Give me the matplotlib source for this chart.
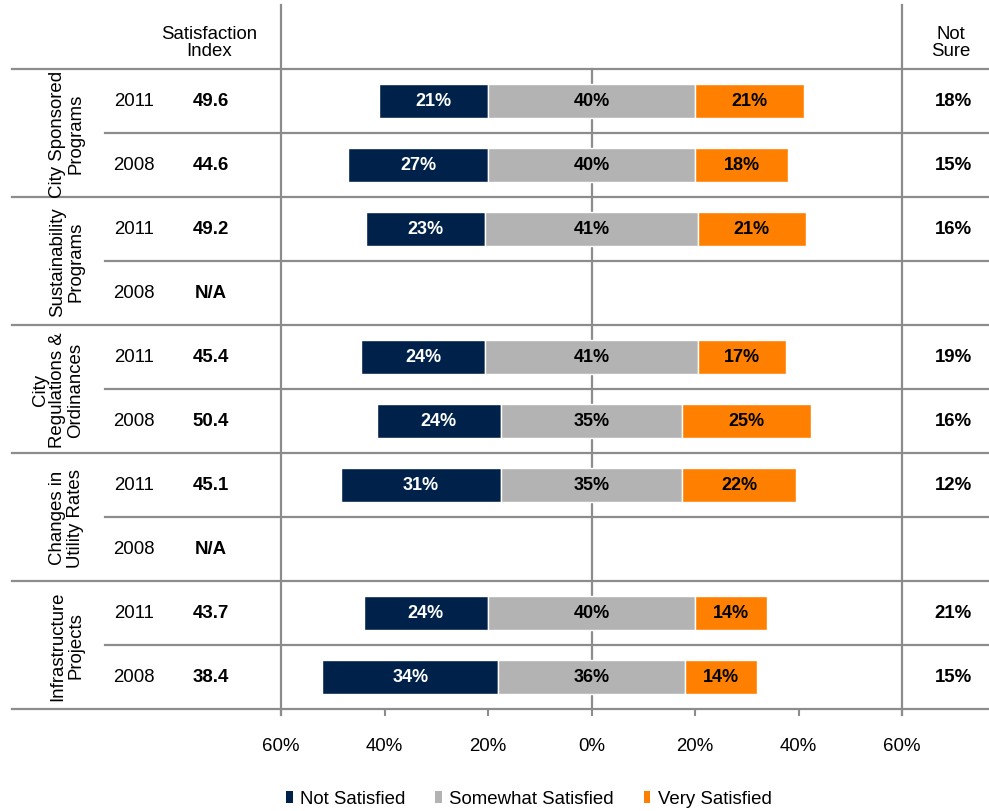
import matplotlib
matplotlib.use("Agg")
import matplotlib.pyplot as plt
from matplotlib.patches import Patch
from matplotlib.lines import Line2D
from matplotlib.transforms import blended_transform_factory

# ---- data ----
categories = ["City Sponsored\nPrograms", "Sustainability\nPrograms",
              "City\nRegulations &\nOrdinances", "Changes in\nUtility Rates",
              "Infrastructure\nProjects"]
years = ["2011", "2008", "2011", "2008", "2011", "2008", "2011", "2008", "2011", "2008"]
sat_index = ["49.6", "44.6", "49.2", "N/A", "45.4", "50.4", "45.1", "N/A", "43.7", "38.4"]
not_satisfied = [21, 27, 23, None, 24, 24, 31, None, 24, 34]
somewhat_satisfied = [40, 40, 41, None, 41, 35, 35, None, 40, 36]
very_satisfied = [21, 18, 21, None, 17, 25, 22, None, 14, 14]
not_sure = [18, 15, 16, None, 19, 16, 12, None, 21, 15]
tick_values = [-60, -40, -20, 0, 20, 40, 60]
tick_labels = ["60%", "40%", "20%", "0%", "20%", "40%", "60%"]
series_names = ["Not Satisfied", "Somewhat Satisfied", "Very Satisfied"]

NAVY = "#00214A"
GRAY = "#B3B3B3"
ORANGE = "#FF7F00"
LINE = "#8C8C8C"
FS = 13.4
FS_BAR = 13.0

plt.rcParams["font.family"] = ["Liberation Sans", "DejaVu Sans"]

W, H = 989, 812
fig = plt.figure(figsize=(W / 100, H / 100), dpi=100)
ax = fig.add_axes([281 / W, (H - 710) / H, 621 / W, 640 / H])
ax.set_xlim(-60, 60)
n_rows = len(years)
ax.set_ylim(n_rows, 0)
for s in ax.spines.values():
    s.set_visible(False)
ax.set_yticks([])
ax.set_xticks(tick_values)
ax.set_xticklabels(tick_labels, fontsize=FS)
ax.tick_params(axis="x", length=5, width=1.5, color=LINE, pad=15)

# figure-x (pixels) / data-y transform for the table part
tr = blended_transform_factory(fig.transFigure, ax.transData)
px = lambda x: x / W

bar_h = 0.54
for i in range(n_rows):
    y = i + 0.5
    s = somewhat_satisfied[i]
    if s is not None:
        n = not_satisfied[i]
        v = very_satisfied[i]
        ax.barh(y, n, left=-s / 2 - n, height=bar_h, color=NAVY, edgecolor="white", linewidth=1, zorder=3)
        ax.barh(y, s, left=-s / 2, height=bar_h, color=GRAY, edgecolor="white", linewidth=1, zorder=3)
        ax.barh(y, v, left=s / 2, height=bar_h, color=ORANGE, edgecolor="white", linewidth=1, zorder=3)
        ax.text(-s / 2 - n / 2, y, f"{n}%", color="white", ha="center", va="center",
                fontsize=FS_BAR, fontweight="bold", zorder=4)
        ax.text(0, y, f"{s}%", color="black", ha="center", va="center",
                fontsize=FS_BAR, fontweight="bold", zorder=4)
        ax.text(s / 2 + v / 2, y, f"{v}%", color="black", ha="center", va="center",
                fontsize=FS_BAR, fontweight="bold", zorder=4)
    # year and index columns
    ax.text(px(134), y, years[i], transform=tr, ha="center", va="center", fontsize=FS)
    ax.text(px(211), y, sat_index[i], transform=tr, ha="center", va="center",
            fontsize=FS, fontweight="bold")
    if not_sure[i] is not None:
        ax.text(px(953), y, f"{not_sure[i]}%", transform=tr, ha="center", va="center",
                fontsize=FS, fontweight="bold")

# group labels
for g, name in enumerate(categories):
    ax.text(px(84), 2 * g + 1, name, transform=tr, rotation=90, ha="right", va="center",
            multialignment="center", fontsize=FS, linespacing=1.05)

# headers
ax.text(px(209), -0.42, "Satisfaction\nIndex", transform=tr, ha="center", va="center",
        fontsize=FS, linespacing=1.05)
ax.text(px(951), -0.42, "Not\nSure", transform=tr, ha="center", va="center",
        fontsize=FS, linespacing=1.05)

# grid lines of the table
for r in range(n_rows + 1):
    x0 = 12 if r % 2 == 0 else 105
    ax.add_line(Line2D([px(x0), px(989)], [r, r], transform=tr, color=LINE,
                       linewidth=1.6, clip_on=False, zorder=2))
for xv in (-60, 60):
    ax.add_line(Line2D([xv, xv], [-1.0, n_rows + 0.09], color=LINE, linewidth=1.6,
                       clip_on=False, zorder=2))
ax.add_line(Line2D([0, 0], [0, n_rows], color=LINE, linewidth=1.6, clip_on=False, zorder=2))

# legend
handles = [Patch(facecolor=c, edgecolor="none") for c in (NAVY, GRAY, ORANGE)]
fig.legend(handles, series_names, loc="center", bbox_to_anchor=(529 / W, 1 - 800 / H),
           ncol=3, frameon=False, handlelength=0.35, handleheight=0.55, handletextpad=0.4,
           columnspacing=1.6, prop={"size": FS})

fig.savefig("out.png", dpi=100)
